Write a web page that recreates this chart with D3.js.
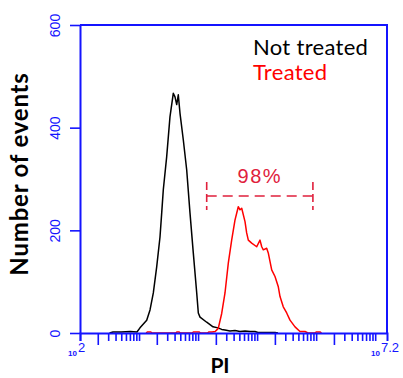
<!DOCTYPE html>
<html>
<head>
<meta charset="utf-8">
<script src="https://cdn.jsdelivr.net/npm/d3@7"></script>
<style>
  html, body { margin: 0; padding: 0; background: #fff; }
  svg { display: block; }
</style>
</head>
<body>
<svg id="chart" width="403" height="378"></svg>
<script>
// PI fluorescence histograms, x in decades (log10 of PI intensity)
const notTreatedLog = [2.50, 2.56, 2.70, 2.85, 2.965, 3.016, 3.130, 3.186, 3.242, 3.299, 3.355, 3.384, 3.411, 3.468,
  3.524, 3.580, 3.609, 3.638, 3.665, 3.694, 3.750, 3.807, 3.863, 3.919, 3.977, 4.004, 4.033, 4.146,
  4.253, 4.337, 4.400, 4.456, 4.540, 4.625, 4.710, 4.795, 4.880, 4.964, 5.015, 5.150, 5.303, 5.354];
const notTreatedCount = [0, 2, 2, 3, 2, 10, 25, 45, 78, 129, 187, 234, 279, 343,
  421, 467, 460, 445, 464, 428, 376, 318, 234, 156, 78, 39, 31, 21,
  12, 10, 7, 6, 4, 5, 3, 4, 3, 3, 1, 1, 1, 0];

const treatedLog = [3.12, 3.14, 3.20, 3.22, 3.62, 3.64, 3.68, 3.70, 3.90, 3.92, 4.02, 4.04,
  4.16, 4.18, 4.236, 4.29, 4.342, 4.400, 4.456, 4.512, 4.569, 4.625, 4.681, 4.710, 4.739, 4.795,
  4.823, 4.851, 4.908, 4.993, 5.049, 5.078, 5.105, 5.162, 5.189, 5.247, 5.303, 5.359, 5.388,
  5.443, 5.501, 5.557, 5.642, 5.726, 5.811, 5.862, 5.98, 6.00, 6.07, 6.09];
const treatedCount = [0, 2, 2, 0, 0, 2, 2, 0, 0, 2, 2, 0,
  0, 2, 2, 3, 9, 38, 78, 136, 181, 220, 246, 240, 243, 217,
  195, 181, 175, 168, 181, 168, 162, 165, 156, 123, 110, 90, 71,
  51, 39, 25, 12, 3, 3, 0, 0, 2, 2, 0];

const yTicks = [0, 200, 400, 600];
const decadeMin = 2, decadeMax = 7.2;
const gateRange = [4.146, 5.945];
const gateLabel = "98%";
const legendItems = [
  { label: "Not treated", color: "#000000" },
  { label: "Treated", color: "#ff0000" }
];

const axisColor = "#1414ff";
const svg = d3.select("#chart");
const plotLeft = 80, plotRight = 387, plotTop = 25, plotBottom = 333;

const x = d3.scaleLinear().domain([decadeMin, decadeMax]).range([plotLeft, plotRight]);
const y = d3.scaleLinear().domain([0, 600]).range([plotBottom, plotTop]);

// histogram traces
const line = d3.line().x(d => x(d[0])).y(d => y(d[1]));
const series = [
  { xs: notTreatedLog, ys: notTreatedCount, color: "#000000" },
  { xs: treatedLog, ys: treatedCount, color: "#ff0000" }
];
series.forEach(s => {
  svg.append("path")
    .datum(s.xs.map((v, i) => [v, s.ys[i]]))
    .attr("fill", "none")
    .attr("stroke", s.color)
    .attr("stroke-width", 1.5)
    .attr("stroke-linejoin", "round")
    .attr("d", line);
});

// log minor ticks on the PI axis
const minorTicks = [];
for (let n = 2; n < 8; n++) {
  for (let k = 1; k <= 9; k++) {
    const v = n + Math.log10(k);
    if (v <= decadeMax + 1e-9) minorTicks.push({ v, k });
  }
}

const xAxisG = svg.append("g").attr("transform", `translate(0,${plotBottom})`)
  .call(d3.axisBottom(x).tickValues(minorTicks.map(t => t.v)).tickFormat("").tickSizeOuter(0).tickSize(8));
xAxisG.selectAll(".tick line").attr("y2", (d) => {
  const t = minorTicks.find(m => m.v === d);
  return t && t.k === 2 ? 12 : 8;
});
const yAxisG = svg.append("g").attr("transform", `translate(${plotLeft},0)`)
  .call(d3.axisLeft(y).tickValues(yTicks).tickSize(10).tickSizeOuter(0).tickPadding(10).tickFormat(d3.format("d")));

[xAxisG, yAxisG].forEach(g => {
  g.select(".domain").attr("stroke", axisColor).attr("stroke-width", 2);
  g.selectAll(".tick line").attr("stroke", axisColor).attr("stroke-width", 1.6);
});
yAxisG.selectAll(".tick text")
  .attr("fill", axisColor)
  .attr("font-family", "Liberation Sans, Arial, sans-serif")
  .attr("font-size", 14)
  .attr("text-anchor", "middle")
  .attr("x", 0).attr("dy", 0)
  .attr("transform", "translate(-20,0) rotate(-90)");

// top and right frame
svg.append("path")
  .attr("d", `M${plotLeft},${plotTop}H${plotRight}V${plotBottom}`)
  .attr("fill", "none").attr("stroke", axisColor).attr("stroke-width", 2);

// decade labels at the ends of the PI axis
function decadeLabel(xPos, exp) {
  const t = svg.append("text")
    .attr("x", xPos)
    .attr("y", 356)
    .attr("fill", axisColor)
    .attr("font-family", "Liberation Sans, Arial, sans-serif")
    .attr("font-size", 8)
    .attr("font-weight", "bold");
  t.append("tspan").text("10");
  t.append("tspan").attr("dx", 1).attr("dy", -4).attr("font-size", 13).attr("font-weight", "normal").text(exp);
}
decadeLabel(68, "2");
decadeLabel(371, "7.2");

// axis titles
svg.append("text")
  .attr("transform", `translate(28,174) rotate(-90)`)
  .attr("text-anchor", "middle")
  .attr("font-family", "Lato, sans-serif")
  .attr("font-weight", "bold")
  .attr("font-size", 24)
  .attr("letter-spacing", 0.8)
  .text("Number of events");
svg.append("text")
  .attr("x", 220).attr("y", 373)
  .attr("text-anchor", "middle")
  .attr("font-family", "Lato, sans-serif")
  .attr("font-weight", "bold")
  .attr("font-size", 21)
  .text("PI");

// legend
legendItems.forEach((d, i) => {
  svg.append("text")
    .attr("x", 253).attr("y", 55 + i * 25)
    .attr("fill", d.color)
    .attr("font-family", "Lato, sans-serif")
    .attr("font-size", 22)
    .attr("letter-spacing", 0.3)
    .text(d.label);
});

// percentage gate
const gateColor = "#e0203c";
const gy = 196;
const gate = svg.append("g").attr("stroke", gateColor).attr("stroke-width", 1.6).attr("fill", "none");
gate.append("line")
  .attr("x1", x(gateRange[0])).attr("x2", x(gateRange[1]))
  .attr("y1", gy).attr("y2", gy)
  .attr("stroke-dasharray", "10,6");
gateRange.forEach(g => {
  gate.append("line")
    .attr("x1", x(g)).attr("x2", x(g))
    .attr("y1", gy - 14).attr("y2", gy + 14)
    .attr("stroke-dasharray", "8,4");
});
svg.append("text")
  .attr("x", (x(gateRange[0]) + x(gateRange[1])) / 2)
  .attr("y", 183)
  .attr("text-anchor", "middle")
  .attr("fill", gateColor)
  .attr("font-family", "Liberation Sans, Arial, sans-serif")
  .attr("font-size", 20)
  .attr("letter-spacing", 1.5)
  .text(gateLabel);
</script>
</body>
</html>
